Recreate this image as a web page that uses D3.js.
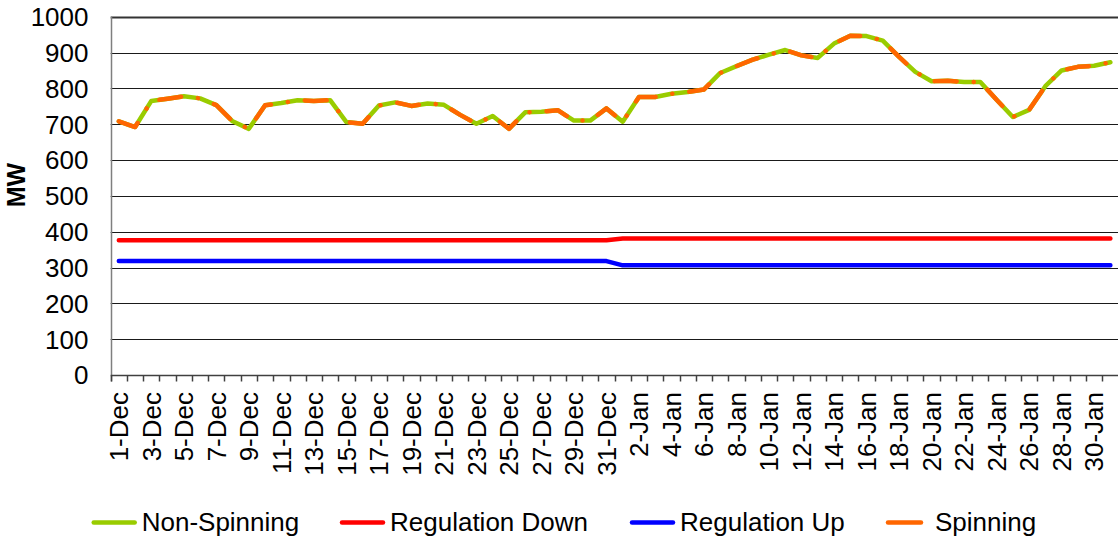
<!DOCTYPE html>
<html>
<head>
<meta charset="utf-8">
<script src="https://cdn.jsdelivr.net/npm/d3@7"></script>
<style>
  html, body { margin: 0; padding: 0; background: #fff; }
  svg { display: block; }
  text { font-family: "Liberation Sans", Arial, sans-serif; fill: #000; }
</style>
</head>
<body>
<svg id="chart" width="1118" height="540"></svg>
<script>
const categories = [
  "1-Dec","2-Dec","3-Dec","4-Dec","5-Dec","6-Dec","7-Dec","8-Dec","9-Dec","10-Dec",
  "11-Dec","12-Dec","13-Dec","14-Dec","15-Dec","16-Dec","17-Dec","18-Dec","19-Dec","20-Dec",
  "21-Dec","22-Dec","23-Dec","24-Dec","25-Dec","26-Dec","27-Dec","28-Dec","29-Dec","30-Dec","31-Dec",
  "1-Jan","2-Jan","3-Jan","4-Jan","5-Jan","6-Jan","7-Jan","8-Jan","9-Jan","10-Jan",
  "11-Jan","12-Jan","13-Jan","14-Jan","15-Jan","16-Jan","17-Jan","18-Jan","19-Jan","20-Jan",
  "21-Jan","22-Jan","23-Jan","24-Jan","25-Jan","26-Jan","27-Jan","28-Jan","29-Jan","30-Jan","31-Jan"
];

const nonSpinning = [
  708,692,765,771,778,772,753,708,687,753,759,767,765,767,706,701,752,761,751,758,
  754,726,701,723,687,733,735,739,710,710,744,
  707,776,776,785,790,797,843,862,880,894,907,892,885,925,947,946,933,888,846,820,
  821,818,818,768,720,740,806,850,860,863,873
];

const spinning = [
  708,692,765,771,778,772,753,708,687,753,759,767,765,767,706,701,752,761,751,758,
  754,726,701,723,687,733,735,739,710,710,744,
  707,776,776,785,790,797,843,862,880,894,907,892,885,925,947,946,933,888,846,820,
  821,818,818,768,720,740,806,850,860,863,873
];

const regulationDown = [
  376,376,376,376,376,376,376,376,376,376,376,376,376,376,376,376,376,376,376,376,
  376,376,376,376,376,376,376,376,376,376,376,
  381,381,381,381,381,381,381,381,381,381,381,381,381,381,381,381,381,381,381,381,
  381,381,381,381,381,381,381,381,381,381,381
];

const regulationUp = [
  318,318,318,318,318,318,318,318,318,318,318,318,318,318,318,318,318,318,318,318,
  318,318,318,318,318,318,318,318,318,318,318,
  306,306,306,306,306,306,306,306,306,306,306,306,306,306,306,306,306,306,306,306,
  306,306,306,306,306,306,306,306,306,306,306
];

const yTicks = [0,100,200,300,400,500,600,700,800,900,1000];
const seriesNames = ["Non-Spinning","Regulation Down","Regulation Up","Spinning"];
const seriesColors = ["#99CC00","#FF0000","#0000FF","#FF6600"];
const yTitle = "MW";

const svg = d3.select("#chart");
const plot = { left: 110.7, right: 1118.5, top: 16.7, bottom: 375 };

const x = d3.scaleBand().domain(categories).range([plot.left, plot.right]).padding(0);
const y = d3.scaleLinear().domain([0, 1000]).range([plot.bottom, plot.top]);
const cx = c => x(c) + x.bandwidth() / 2;

// gridlines
svg.append("g").selectAll("line").data(yTicks.filter(t => t > 0)).join("line")
  .attr("x1", plot.left).attr("x2", 1118)
  .attr("y1", d => Math.round(y(d)) + 0.5).attr("y2", d => Math.round(y(d)) + 0.5)
  .attr("stroke", d => d === 1000 ? "#333" : "#1a1a1a")
  .attr("stroke-width", d => d === 1000 ? 2 : 1);

// y tick labels
svg.append("g").selectAll("text").data(yTicks).join("text")
  .attr("x", 88.5).attr("y", d => y(d))
  .attr("dy", "0.36em")
  .attr("text-anchor", "end")
  .style("font-size", "26px")
  .text(d => d);

// y title
svg.append("text")
  .attr("transform", "translate(16,185) rotate(-90)")
  .attr("text-anchor", "middle").attr("dy", "0.36em")
  .style("font-size", "25px").style("font-weight", "bold")
  .text(yTitle);

// axes lines
const xb = Math.round(plot.bottom) + 0.5;
svg.append("line").attr("x1", Math.round(plot.left) + 0.5).attr("x2", Math.round(plot.left) + 0.5)
  .attr("y1", plot.top).attr("y2", xb + 6).attr("stroke", "#7f7f7f").attr("stroke-width", 1.5);
svg.append("line").attr("x1", plot.left).attr("x2", 1118)
  .attr("y1", xb).attr("y2", xb).attr("stroke", "#404040").attr("stroke-width", 1.5);

// x ticks at category boundaries
const boundaries = categories.map(c => x(c)).concat([plot.right]);
svg.append("g").selectAll("line").data(boundaries).join("line")
  .attr("x1", d => Math.round(d) + 0.5).attr("x2", d => Math.round(d) + 0.5)
  .attr("y1", xb).attr("y2", xb + 6)
  .attr("stroke", "#404040").attr("stroke-width", 1.5);

// x labels (every other category)
svg.append("g").selectAll("text").data(categories.filter((c, i) => i % 2 === 0)).join("text")
  .attr("transform", d => `translate(${cx(d)},392) rotate(-90)`)
  .attr("text-anchor", "end").attr("dy", "0.36em")
  .style("font-size", "26px")
  .text(d => d);

// lines
const line = d3.line().x((d, i) => cx(categories[i])).y(d => y(d));
const allSeries = [nonSpinning, regulationDown, regulationUp, spinning];
allSeries.forEach((vals, k) => {
  const p = svg.append("path").datum(vals)
    .attr("d", line)
    .attr("fill", "none")
    .attr("stroke", seriesColors[k])
    .attr("stroke-width", 4.5)
    .attr("stroke-linecap", "round")
    .attr("stroke-linejoin", "round");
  if (k === 3) p.attr("stroke-dasharray", "22 17 0.1 17");
});

// legend
const legendX = [91.7, 340, 630, 886];
const legendLen = [45, 45, 45, 37];
const lg = svg.append("g");
seriesNames.forEach((name, k) => {
  lg.append("line")
    .attr("x1", legendX[k] + 2).attr("x2", legendX[k] + legendLen[k] - 2)
    .attr("y1", 522.5).attr("y2", 522.5)
    .attr("stroke", seriesColors[k]).attr("stroke-width", 4.5)
    .attr("stroke-linecap", "round");
  lg.append("text")
    .attr("x", legendX[k] + (k === 3 ? 49 : 50)).attr("y", 530.5)
    .style("font-size", "26px")
    .text(name);
});
</script>
</body>
</html>
